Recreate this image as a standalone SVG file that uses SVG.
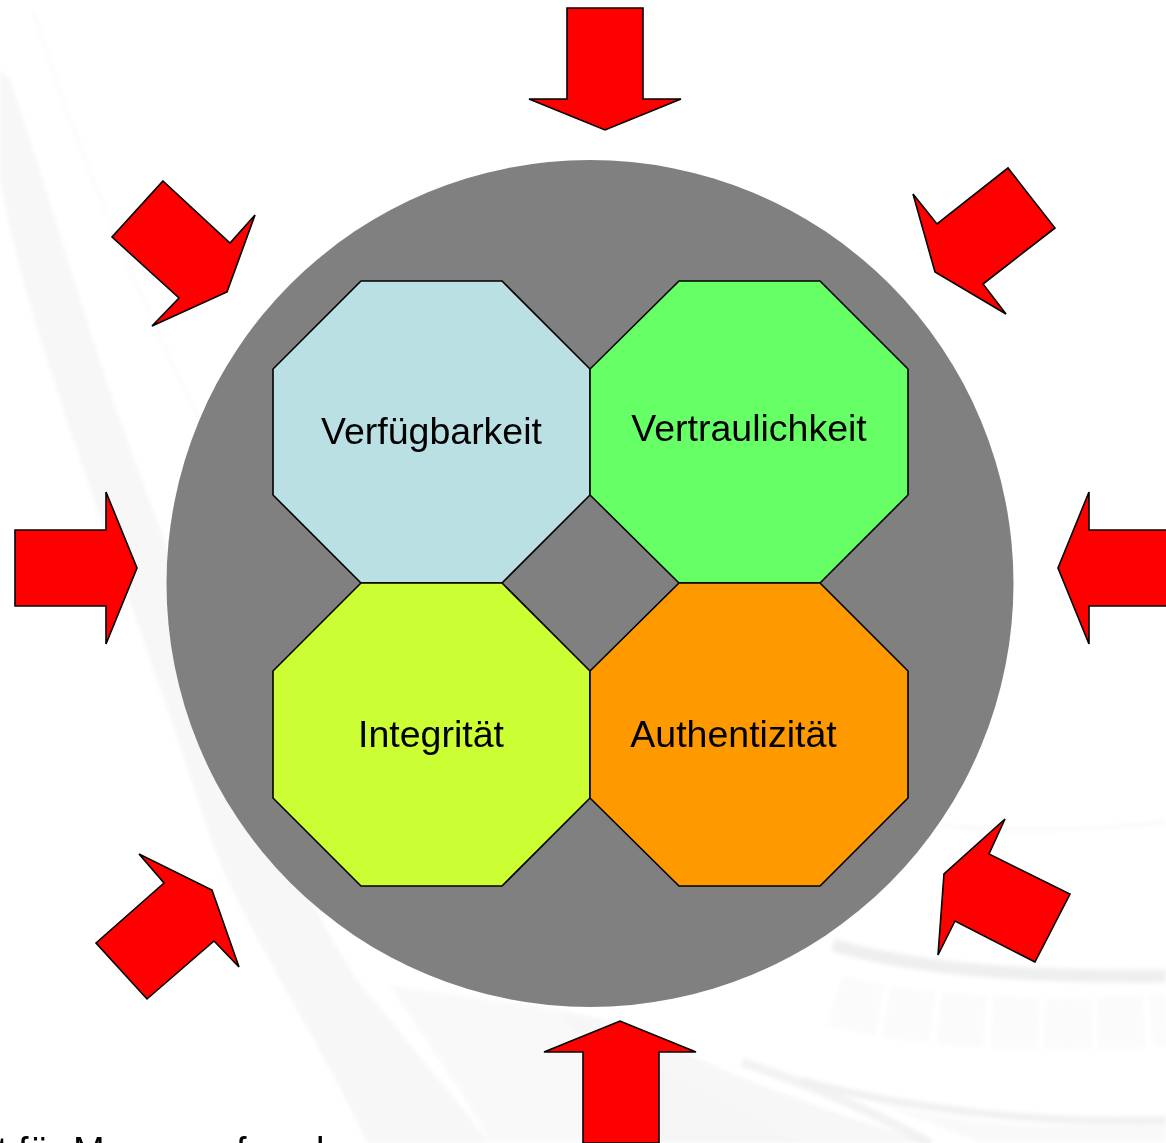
<svg xmlns="http://www.w3.org/2000/svg" width="1166" height="1143" viewBox="0 0 1166 1143">
<defs><filter id="soft" x="-5%" y="-5%" width="110%" height="110%"><feGaussianBlur stdDeviation="2"/></filter></defs>
<style>
.a{fill:#f00;stroke:#000;stroke-width:1.6;stroke-linejoin:miter}
.o{stroke:#000;stroke-width:1.6}
.t{font-family:"Liberation Sans",Arial,sans-serif;font-size:37.500px;fill:#000}
.c{font-size:38px}
.w{fill:#f4f4f4;stroke:none}
.l{fill:#f9f9f9;stroke:none}
.wl{fill:none;stroke:#efefef}
.tooth{fill:none;stroke:#fbfbfb;stroke-width:52;stroke-dasharray:46 7}
</style>
<rect width="1166" height="1143" fill="#fff"/>
<g id="background" filter="url(#soft)">
<path class="w" d="M0 178C25 330 120 560 213 845C245 930 320 1040 367 1143L490 1143C440 1080 390 1020 357 980C290 880 220 690 133 456C90 340 45 180 10 80L0 70Z" opacity=".75"/>
<path class="l" d="M390 985C430 1050 470 1100 490 1143L800 1143C720 1100 640 1060 560 1010Z"/>
<path class="w" d="M631 1025C720 1075 850 1120 935 1143L660 1143C640 1120 600 1060 560 1010Z" opacity=".7"/>
<path class="wl" stroke-width="9" d="M742 1062C800 1082 850 1100 930 1143" opacity=".8"/>
<path class="wl" stroke-width="13" d="M833 945C900 965 1000 978 1166 976"/>
<path class="wl" stroke-width="2" d="M940 825C1000 833 1100 830 1166 822" opacity=".7"/>
<path class="tooth" d="M835 1000C900 1020 1040 1030 1166 1020"/>
<path class="wl" stroke-width="8" d="M800 1080C900 1108 1040 1125 1166 1120" opacity=".9"/>
<path class="l" d="M880 1103C960 1125 1060 1130 1166 1124L1166 1143L980 1143Z"/>
<path d="M33 10C70 130 130 280 200 420" fill="none" stroke="#fafafa" stroke-width="3"/>
</g>
<g id="circle"><circle cx="590" cy="583.500" r="423.500" fill="#808080"/></g>
<g id="node-verfuegbarkeit">
<polygon class="o" fill="#bbe0e3" points="361,281 502,281 590,369 590,495 502,583 361,583 273,495 273,369"/>
<text class="t" x="431.500" y="444" text-anchor="middle">Verfügbarkeit</text>
</g>
<g id="node-vertraulichkeit">
<polygon class="o" fill="#66ff66" points="679,281 820,281 908,369 908,495 820,583 679,583 590,495 590,369"/>
<text class="t" x="749" y="441" text-anchor="middle">Vertraulichkeit</text>
</g>
<g id="node-integritaet">
<polygon class="o" fill="#ccff33" points="361,583 502,583 590,671 590,798 502,886 361,886 273,798 273,671"/>
<text class="t" x="431" y="747" text-anchor="middle">Integrität</text>
</g>
<g id="node-authentizitaet">
<polygon class="o" fill="#ff9900" points="679,583 820,583 908,671 908,798 820,886 679,886 590,798 590,671"/>
<text class="t" x="733.500" y="747" text-anchor="middle">Authentizität</text>
</g>
<g id="connectors">
<polygon class="a" points="567,8 643,8 643,99 681,99 605,130 529,99 567,99"/>
<polygon class="a" points="583,1143 659,1143 659,1052 696,1052 620,1021 544,1052 583,1052"/>
<polygon class="a" points="15,530 106,530 106,492 137,568 106,644 106,606 15,606"/>
<polygon class="a" points="1167,530 1089,530 1089,492 1058,568 1089,644 1089,606 1167,606"/>
<polygon class="a" points="163,181 230,243 255,215 227,292 152,326 179,298 112,237"/>
<polygon class="a" points="1008,168 937,224 913,194 935,272 1006,314 983,284 1055,228"/>
<polygon class="a" points="147,999 214,941 239,967 212,890 139,854 164,883 96,943"/>
<polygon class="a" points="1035,962 955,921 938,955 944,874 1005,819 989,854 1070,894"/>
</g>
<g id="caption">
<text class="t c" x="-3" y="1164">t für M</text>
<text class="t c" x="236" y="1164">f</text>
<text class="t c" x="316" y="1164">l</text>
</g>
</svg>
